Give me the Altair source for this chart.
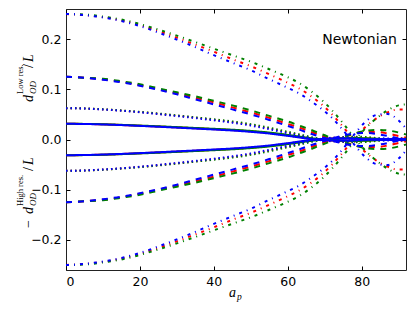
import altair as alt
import pandas as pd

# a_p sample positions
a_p = [0, 5, 10, 15, 20, 25, 30, 35, 40, 45, 50, 55, 60, 63, 66, 69, 72, 75, 78, 81, 84, 87, 90, 92]

# d/L values (Low res. side); the lower half of the chart shows -d(High res.)/L
dashdot_red   = [0.25, 0.248, 0.244, 0.237, 0.228, 0.216, 0.203, 0.189, 0.175, 0.160, 0.146, 0.130, 0.113, 0.102, 0.088, 0.071, 0.050, 0.025, -0.002, -0.025, -0.042, -0.054, -0.060, -0.060]
dashdot_green = [0.25, 0.249, 0.245, 0.239, 0.230, 0.219, 0.207, 0.194, 0.181, 0.168, 0.155, 0.140, 0.124, 0.113, 0.098, 0.080, 0.058, 0.032, 0.004, -0.022, -0.042, -0.058, -0.068, -0.070]
dashdot_blue  = [0.25, 0.248, 0.243, 0.236, 0.226, 0.213, 0.199, 0.184, 0.168, 0.153, 0.138, 0.120, 0.103, 0.092, 0.078, 0.062, 0.043, 0.018, -0.010, -0.035, -0.049, -0.051, -0.038, -0.022]

dashed_red    = [0.125, 0.123, 0.120, 0.115, 0.108, 0.100, 0.092, 0.083, 0.074, 0.064, 0.054, 0.043, 0.031, 0.024, 0.016, 0.008, 0.0, -0.007, -0.012, -0.015, -0.015, -0.012, -0.007, -0.004]
dashed_green  = [0.125, 0.123, 0.121, 0.116, 0.110, 0.102, 0.094, 0.086, 0.077, 0.068, 0.058, 0.047, 0.036, 0.028, 0.020, 0.011, 0.003, -0.005, -0.012, -0.017, -0.019, -0.018, -0.014, -0.010]
dashed_blue   = [0.125, 0.123, 0.119, 0.114, 0.107, 0.099, 0.090, 0.080, 0.070, 0.060, 0.050, 0.039, 0.027, 0.020, 0.012, 0.005, -0.002, -0.008, -0.012, -0.013, -0.011, -0.007, -0.002, 0.001]

dotted_red    = [0.0625, 0.0618, 0.060, 0.0576, 0.0546, 0.0512, 0.0474, 0.0434, 0.0392, 0.0348, 0.029, 0.022, 0.014, 0.009, 0.004, 0.0, -0.003, -0.005, -0.005, -0.004, -0.002, 0.0, 0.002, 0.003]
dotted_green  = [0.0625, 0.0619, 0.0602, 0.0579, 0.055, 0.0518, 0.048, 0.0442, 0.0402, 0.036, 0.0305, 0.0235, 0.0155, 0.0105, 0.0055, 0.001, -0.002, -0.0045, -0.0055, -0.005, -0.003, -0.001, 0.001, 0.002]
dotted_blue   = [0.0625, 0.0617, 0.0598, 0.0573, 0.0542, 0.0506, 0.0467, 0.0426, 0.0382, 0.0336, 0.0277, 0.0205, 0.0125, 0.0078, 0.003, -0.001, -0.0035, -0.004, -0.003, -0.001, 0.001, 0.002, 0.002, 0.001]

solid_red     = [0.03125, 0.031, 0.0302, 0.0289, 0.0274, 0.0258, 0.0241, 0.0224, 0.0206, 0.0187, 0.0162, 0.0128, 0.0082, 0.005, 0.002, -0.0005, -0.002, -0.0025, -0.0025, -0.002, -0.001, 0.0, 0.001, 0.0015]
solid_green   = [0.03125, 0.0311, 0.0304, 0.0292, 0.0278, 0.0263, 0.0247, 0.023, 0.0213, 0.0195, 0.0171, 0.0138, 0.0092, 0.006, 0.003, 0.0005, -0.0015, -0.0025, -0.003, -0.0025, -0.0015, -0.0005, 0.0005, 0.001]
solid_blue    = [0.03125, 0.0309, 0.03, 0.0287, 0.0271, 0.0254, 0.0236, 0.0218, 0.0199, 0.0179, 0.0153, 0.0119, 0.0073, 0.0042, 0.0012, -0.001, -0.002, -0.002, -0.0015, -0.0005, 0.0005, 0.001, 0.001, 0.0005]

y_ticks = [-0.2, -0.1, 0.0, 0.1, 0.2]
x_ticks = [0, 20, 40, 60, 80]

series = {
    ("r", "dashdot"): dashdot_red, ("g", "dashdot"): dashdot_green, ("b", "dashdot"): dashdot_blue,
    ("r", "dashed"): dashed_red, ("g", "dashed"): dashed_green, ("b", "dashed"): dashed_blue,
    ("r", "dotted"): dotted_red, ("g", "dotted"): dotted_green, ("b", "dotted"): dotted_blue,
    ("r", "solid"): solid_red, ("g", "solid"): solid_green, ("b", "solid"): solid_blue,
}
colors = {"r": "#ff0000", "g": "#008000", "b": "#0000ff"}
dashes = {"dashdot": [3, 5, 1, 5], "dashed": [6, 6], "dotted": [1.5, 3], "solid": [1, 0]}

W, H = 340, 261
xs = alt.Scale(domain=[0, 92], nice=False, zero=False)
ys = alt.Scale(domain=[-0.26, 0.26], nice=False, zero=False)

layers = []
for col in ["r", "g", "b"]:
    for sty in ["dashdot", "dashed", "dotted", "solid"]:
        vals = series[(col, sty)]
        for side, sgn in (("low", 1), ("high", -1)):
            df = pd.DataFrame({"a": a_p, "d": [sgn * v for v in vals]})
            lc = alt.Chart(df).mark_line(
                color=colors[col], strokeDash=dashes[sty], strokeWidth=2, interpolate="monotone", clip=True
            ).encode(
                x=alt.X("a:Q", scale=xs, axis=None),
                y=alt.Y("d:Q", scale=ys, axis=None),
            )
            layers.append(lc)

# axes: labels (outside) and inward ticks on all four sides
dummy = pd.DataFrame({"a": [0], "d": [0]})
base = alt.Chart(dummy).mark_point(opacity=0)
lab_x = base.encode(
    x=alt.X("a:Q", scale=xs, axis=alt.Axis(values=x_ticks, format="d", tickSize=0, labelPadding=5, domain=False, grid=False, title=None, labelFontSize=12.5, labelColor="black", labelFont="DejaVu Sans")),
    y=alt.Y("d:Q", scale=ys, axis=alt.Axis(values=y_ticks, format=".1f", tickSize=0, labelPadding=5, domain=False, grid=False, title=None, labelFontSize=12.5, labelColor="black", labelFont="DejaVu Sans")),
)
tick_ax = dict(labels=False, tickSize=4, tickColor="black", tickWidth=1, domain=False, grid=False, title=None)
tk1 = base.encode(
    x=alt.X("a:Q", scale=xs, axis=alt.Axis(orient="top", offset=-H, values=x_ticks, **tick_ax)),
    y=alt.Y("d:Q", scale=ys, axis=alt.Axis(orient="right", offset=-W, values=y_ticks, **tick_ax)),
)
tk2 = base.encode(
    x=alt.X("a:Q", scale=xs, axis=alt.Axis(orient="bottom", offset=-H, values=x_ticks, **tick_ax)),
    y=alt.Y("d:Q", scale=ys, axis=alt.Axis(orient="left", offset=-W, values=y_ticks, **tick_ax)),
)

def txt(s, x, y, size=13, style="normal", font="Liberation Serif", angle=270, baseline="alphabetic", align="left"):
    return alt.Chart(dummy).mark_text(
        text=s, fontSize=size, fontStyle=style, font=font, angle=angle, align=align, baseline=baseline, color="black"
    ).encode(x=alt.value(x), y=alt.value(y))

labels = [
    # upper y label: d_OD^{Low res.} / L
    txt("d", -33, 93, 14, "italic"),
    txt("OD", -30, 85, 9, "italic"),
    txt("Low res.", -43, 85, 8.5),
    txt("/", -33, 59, 14),
    txt("L", -33, 53, 14, "italic"),
    # lower y label: -d_OD^{High res.} / L
    txt("\u2212", -33, 219, 14),
    txt("d", -33, 205, 14, "italic"),
    txt("OD", -30, 197, 9, "italic"),
    txt("High res.", -43, 197, 8.5),
    txt("/", -33, 162, 14),
    txt("L", -33, 156, 14, "italic"),
    # x label a_p
    txt("a", 163, 288, 14, "italic", angle=0),
    txt("p", 171, 291, 9.5, "italic", angle=0),
    # annotation
    txt("Newtonian", 331, 35, 14, font="DejaVu Sans", angle=0, align="right"),
]

chart = alt.layer(*layers, lab_x, tk1, tk2, *labels).resolve_axis(x="independent", y="independent").properties(
    width=W, height=H,
    autosize=alt.AutoSizeParams(type="none"),
    padding={"left": 58, "top": 1, "right": 1, "bottom": 33},
).configure_view(stroke="#222222", strokeWidth=1)

chart.save("out.html", embed_options={"renderer": "svg", "actions": False})
